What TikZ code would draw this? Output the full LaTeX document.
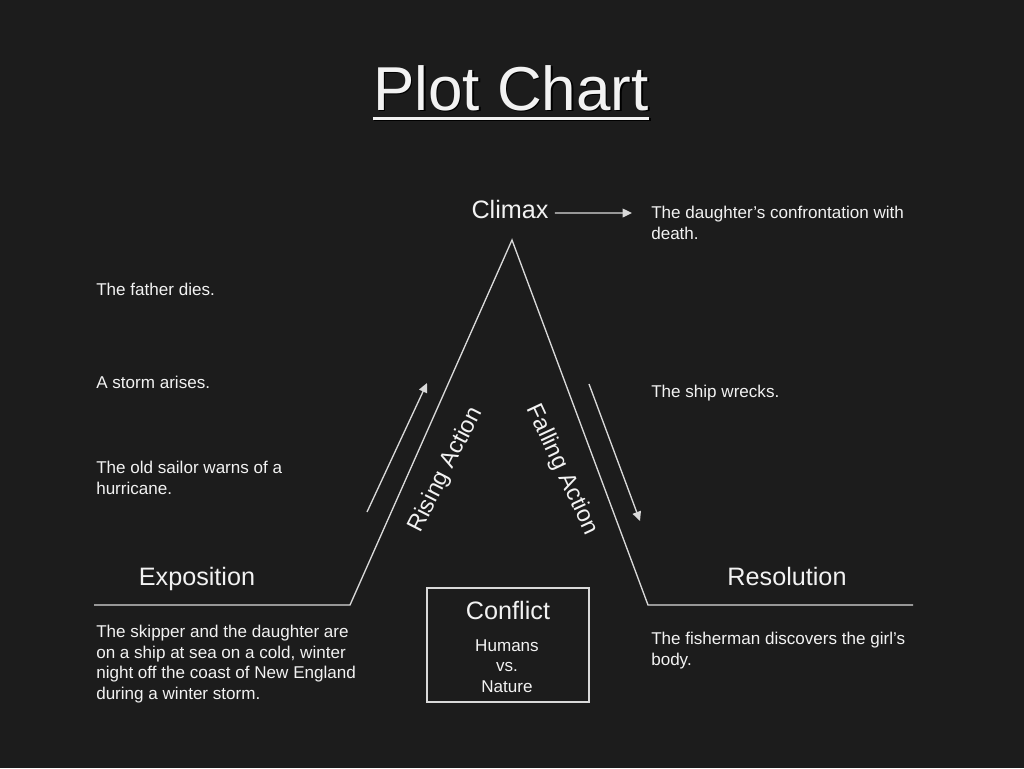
\documentclass[tikz,border=0pt]{standalone}
\usepackage{fontspec}
\setmainfont{Liberation Sans}
\usetikzlibrary{arrows.meta}
\definecolor{bg}{HTML}{1C1C1C}
\definecolor{fg}{HTML}{F2F2F2}
\definecolor{ln}{HTML}{D9D9D9}
\begin{document}
\begin{tikzpicture}[x=0.75pt,y=-0.75pt,
  txt/.style={text=fg,inner sep=0pt,font=\fontsize{12.8}{15.4}\selectfont,align=left,anchor=north west},
  small/.style={text=fg,inner sep=0pt,font=\fontsize{12.8}{15.4}\selectfont,anchor=base},
  big/.style={text=fg,inner sep=0pt,font=\fontsize{18.9}{22}\selectfont,anchor=base},
  slanted/.style={text=fg,inner sep=0pt,font=\fontsize{17.6}{20}\selectfont},
  outline/.style={draw=ln,line width=1pt},
  arr/.style={draw=ln,line width=1pt,-{Triangle[length=7pt,width=6.5pt]}}]
\fill[bg] (0,0) rectangle (1024,768);
\useasboundingbox (0,0) rectangle (1024,768);
% title
\node[text=black,inner sep=0pt,anchor=base,font=\fontsize{46.5}{50}\selectfont] (titleshadow) at (512.5,111.5) {Plot Chart};
\node[text=fg,inner sep=0pt,anchor=base,font=\fontsize{46.5}{50}\selectfont] (title) at (511,110) {Plot Chart};
\draw[black,line width=2.25pt] ([xshift=1.1pt,yshift=-7.1pt]title.base west) -- ([xshift=1.1pt,yshift=-7.1pt]title.base east);
\draw[fg,line width=2.25pt] ([yshift=-6pt]title.base west) -- ([yshift=-6pt]title.base east);
% plot line
\coordinate (L0) at (94,605);
\coordinate (L1) at (350,605);
\coordinate (apex) at (512,240);
\coordinate (R1) at (648,605);
\coordinate (R0) at (913,605);
\draw[outline] (L0) -- (L1) -- (apex) -- (R1) -- (R0);
% climax
\node[big] (climax) at (510,218) {Climax};
\node[txt] (daughter) at (651,206) {The daughter’s confrontation with\\death.};
\coordinate (climaxTip) at (632,213);
\draw[arr] ([xshift=4.5pt,yshift=-3pt]climax.east) -- (climaxTip);
% left events
\node[txt] (father) at (96,283) {The father dies.};
\node[txt] (storm) at (96,376) {A storm arises.};
\node[txt] (sailor) at (96,461) {The old sailor warns of a\\hurricane.};
% right events
\node[txt] (ship) at (651,385) {The ship wrecks.};
% rising / falling
\coordinate (riseA) at (367,512);
\coordinate (riseB) at (427,383);
\draw[arr] (riseA) -- (riseB);
\coordinate (fallA) at (589,384);
\coordinate (fallB) at (640,521);
\draw[arr] (fallA) -- (fallB);
\node[slanted,rotate=63] (rising) at (446,470) {Rising Action};
\node[slanted,rotate=-65] (falling) at (562,470) {Falling Action};
% exposition / resolution
\node[big] (exposition) at (197,585) {Exposition};
\node[big] (resolution) at (787,585) {Resolution};
\node[txt] (expotext) at (96,625) {The skipper and the daughter are\\on a ship at sea on a cold, winter\\night off the coast of New England\\during a winter storm.};
\node[txt] (resotext) at (651,632) {The fisherman discovers the girl’s\\body.};
% conflict
\node[draw=ln,line width=1pt,minimum width=121.5pt,minimum height=85.5pt,inner sep=0pt] (conflictbox) at (508,645) {};
\node[big] (conflict) at (508,619) {Conflict};
\node[small] (humans) at (507,651) {Humans};
\node[small] (vs) at (507,671) {vs.};
\node[small] (nature) at (507,692) {Nature};
\end{tikzpicture}
\end{document}
